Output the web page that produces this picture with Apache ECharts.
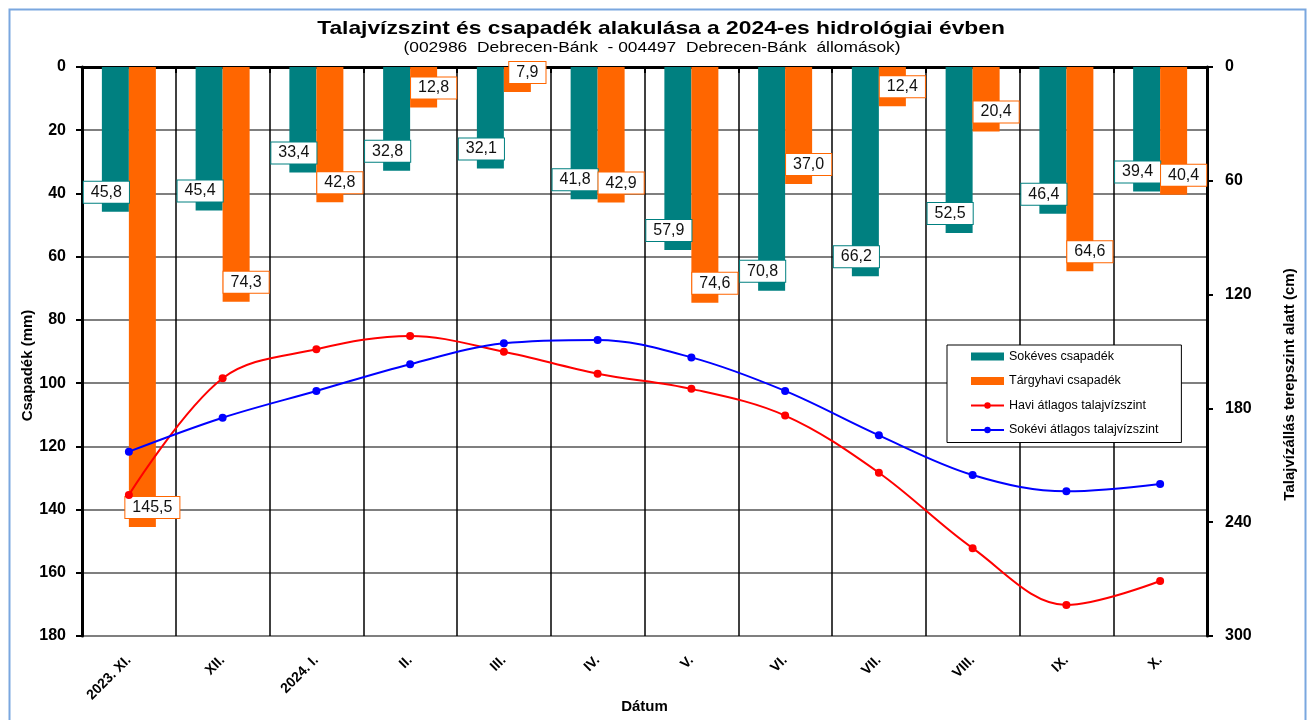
<!DOCTYPE html>
<html>
<head>
<meta charset="utf-8">
<script src="https://cdn.jsdelivr.net/npm/echarts@6/dist/echarts.min.js"></script>
<style>
html,body{margin:0;padding:0;background:#fff;}
#main{width:1311px;height:720px;}
</style>
</head>
<body>
<div id="main"></div>
<script>
const categories = ['2023. XI.', 'XII.', '2024. I.', 'II.', 'III.', 'IV.', 'V.', 'VI.', 'VII.', 'VIII.', 'IX.', 'X.'];
const sokevesCsapadek = [45.8, 45.4, 33.4, 32.8, 32.1, 41.8, 57.9, 70.8, 66.2, 52.5, 46.4, 39.4];
const targyhaviCsapadek = [145.5, 74.3, 42.8, 12.8, 7.9, 42.9, 74.6, 37.0, 12.4, 20.4, 64.6, 40.4];
const haviTalajviz = [225.6, 164.1, 148.8, 141.8, 150.1, 161.7, 169.7, 183.8, 213.9, 253.7, 283.6, 271.0];
const sokeviTalajviz = [202.8, 184.9, 170.8, 156.7, 145.7, 143.9, 153.1, 170.8, 194.2, 215.1, 223.7, 219.8];
const leftTicks = {min: 0, max: 180, interval: 20};
const rightTicks = {min: 0, max: 300, interval: 60};
const titleText = 'Talajvízszint és csapadék alakulása a 2024-es hidrológiai évben';
const subtitleText = '(002986  Debrecen-Bánk  - 004497  Debrecen-Bánk  állomások)';

const FONT = 'Liberation Sans, Arial, sans-serif';
const fmt = v => v.toFixed(1).replace('.', ',');

function barLabel(color, dx) {
  return {
    show: true,
    position: 'insideBottom',
    distance: 9,
    offset: [dx, 0],
    formatter: p => fmt(p.value),
    color: '#111',
    fontFamily: FONT,
    fontSize: 16,
    backgroundColor: '#fff',
    borderColor: color,
    borderWidth: 1,
    padding: [2, 7, 2, 7],
    lineHeight: 17
  };
}

const chart = echarts.init(document.getElementById('main'), null, {renderer: 'canvas'});
chart.setOption({
  backgroundColor: '#fff',
  animation: false,
  graphic: [{
    type: 'rect',
    shape: {x: 9.5, y: 9.5, width: 1296, height: 730},
    style: {fill: 'none', stroke: '#7aa7df', lineWidth: 2},
    silent: true,
    z: 100
  }, {
    type: 'text',
    x: 661, y: 29,
    scaleX: 1.2,
    style: {text: titleText, fontFamily: FONT, fontSize: 19, fontWeight: 'bold', fill: '#000', align: 'center', verticalAlign: 'middle'},
    silent: true
  }, {
    type: 'text',
    x: 652, y: 47.5,
    scaleX: 1.16,
    style: {text: subtitleText, fontFamily: FONT, fontSize: 15, fill: '#000', align: 'center', verticalAlign: 'middle'},
    silent: true
  }],
  legend: {
    orient: 'vertical',
    left: 947,
    top: 345,
    backgroundColor: '#fff',
    borderColor: '#000',
    borderWidth: 1,
    padding: [5, 23, 6, 23],
    itemGap: 11.5,
    itemWidth: 33,
    itemHeight: 8,
    textStyle: {fontFamily: FONT, fontSize: 12.5, color: '#000'},
    data: [
      {name: 'Sokéves csapadék', icon: 'rect'},
      {name: 'Tárgyhavi csapadék', icon: 'rect'},
      {name: 'Havi átlagos talajvízszint'},
      {name: 'Sokévi átlagos talajvízszint'}
    ],
    z: 20
  },
  grid: {left: 82, right: 104, top: 67, bottom: 84, containLabel: false, outerBoundsMode: 'none'},
  xAxis: {
    type: 'category',
    data: categories,
    boundaryGap: true,
    name: 'Dátum',
    nameLocation: 'middle',
    nameGap: 63,
    nameMoveOverlap: false,
    nameTextStyle: {fontFamily: FONT, fontSize: 15, fontWeight: 'bold', color: '#000'},
    axisLine: {show: true, lineStyle: {color: '#000', width: 3}},
    axisTick: {show: true, length: 6, lineStyle: {color: '#000', width: 2}},
    axisLabel: {rotate: 45, margin: 22, fontFamily: FONT, fontSize: 14, fontWeight: 'bold', color: '#000', interval: 0},
    splitLine: {show: true, interval: 0, lineStyle: {color: '#000', width: 1.5}}
  },
  yAxis: [{
    type: 'value',
    inverse: true,
    min: leftTicks.min, max: leftTicks.max, interval: leftTicks.interval,
    name: 'Csapadék (mm)',
    nameLocation: 'middle',
    nameRotate: 90,
    nameGap: 47,
    nameMoveOverlap: false,
    nameTextStyle: {fontFamily: FONT, fontSize: 15, fontWeight: 'bold', color: '#000', padding: [0, 28, 0, 0]},
    axisLine: {show: true, lineStyle: {color: '#000', width: 3}},
    axisTick: {show: true, length: 6, lineStyle: {color: '#000', width: 2}},
    axisLabel: {margin: 16, fontFamily: FONT, fontSize: 16, fontWeight: 'bold', color: '#000'},
    splitLine: {show: true, lineStyle: {color: '#555', width: 1.5}}
  }, {
    type: 'value',
    inverse: true,
    position: 'right',
    min: rightTicks.min, max: rightTicks.max, interval: rightTicks.interval,
    name: 'Talajvízállás terepszint alatt (cm)',
    nameLocation: 'middle',
    nameRotate: 90,
    nameGap: 75,
    nameMoveOverlap: false,
    nameTextStyle: {fontFamily: FONT, fontSize: 15, fontWeight: 'bold', color: '#000', padding: [0, 66, 0, 0]},
    axisLine: {show: true, lineStyle: {color: '#000', width: 3}},
    axisTick: {show: true, length: 6, lineStyle: {color: '#000', width: 2}},
    axisLabel: {margin: 18, fontFamily: FONT, fontSize: 16, fontWeight: 'bold', color: '#000'},
    splitLine: {show: false}
  }],
  series: [{
    name: 'Sokéves csapadék',
    type: 'bar',
    yAxisIndex: 0,
    data: sokevesCsapadek,
    barWidth: 27,
    barGap: '0%',
    itemStyle: {color: '#008080'},
    label: barLabel('#008080', -9),
    z: 2
  }, {
    name: 'Tárgyhavi csapadék',
    type: 'bar',
    yAxisIndex: 0,
    data: targyhaviCsapadek,
    barWidth: 27,
    barGap: '0%',
    itemStyle: {color: '#ff6600'},
    label: barLabel('#ff6600', 10),
    z: 2
  }, {
    name: 'Havi átlagos talajvízszint',
    type: 'line',
    yAxisIndex: 1,
    data: haviTalajviz,
    smooth: 0.35,
    symbol: 'circle',
    symbolSize: 8,
    lineStyle: {color: '#ff0000', width: 2},
    itemStyle: {color: '#ff0000'},
    z: 5
  }, {
    name: 'Sokévi átlagos talajvízszint',
    type: 'line',
    yAxisIndex: 1,
    data: sokeviTalajviz,
    smooth: 0.35,
    symbol: 'circle',
    symbolSize: 8,
    lineStyle: {color: '#0000ff', width: 2},
    itemStyle: {color: '#0000ff'},
    z: 5
  }]
});
</script>
</body>
</html>
